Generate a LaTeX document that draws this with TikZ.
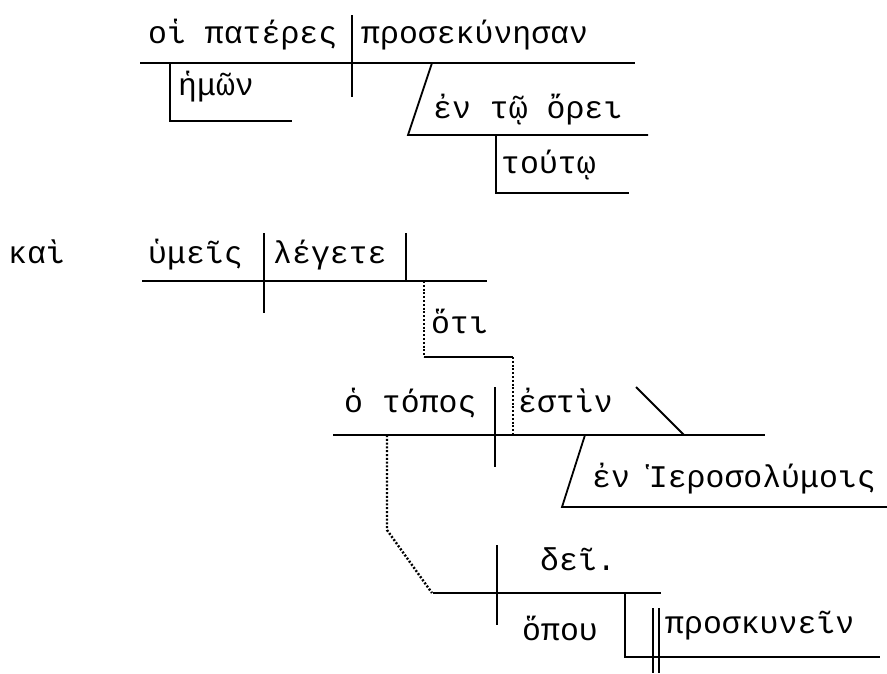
\documentclass[tikz,border=0pt]{standalone}
\usepackage{fontspec}
\setmainfont{Liberation Mono}
\newfontfamily\grk{Liberation Mono}
\begin{document}
\begin{tikzpicture}[x=1pt,y=-1pt,
  ln/.style={line width=1.8pt},
  dl/.style={line width=2.4pt,dash pattern=on 2pt off 1.8pt},
  wd/.style={inner sep=0pt,anchor=base west,font=\grk\fontsize{31.5}{36}\selectfont}]
\useasboundingbox (0,0) rectangle (887,673);
% top clause
\draw[ln] (140,63) -- (635,63);
\draw[ln] (352,15) -- (352,97);
\draw[ln] (170,63) -- (170,121) -- (292,121);
\draw[ln] (432,63) -- (408,135) -- (648,135);
\draw[ln] (496,135) -- (496,193) -- (629,193);
\node[wd] (s1) at (148,43) {οἱ πατέρες};
\node[wd] (v1) at (361,43) {προσεκύνησαν};
\node[wd] (m1) at (178,95) {ἡμῶν};
\node[wd] (p1) at (433,118) {ἐν τῷ ὄρει};
\node[wd] (m2) at (501,173) {τούτῳ};
% second clause
\node[wd] (c1) at (8,263) {καὶ};
\node[wd] (s2) at (148,263) {ὑμεῖς};
\node[wd] (v2) at (273,263) {λέγετε};
\draw[ln] (142,281) -- (487,281);
\draw[ln] (264,233) -- (264,313);
\draw[ln] (406,233) -- (406,281);
\draw[dl] (424,281) -- (424,357);
\draw[ln] (424,357) -- (513,357);
\draw[dl] (513,357) -- (513,435);
\node[wd] (c2) at (431,333) {ὅτι};
% third clause
\node[wd] (s3) at (344,412) {ὁ τόπος};
\node[wd] (v3) at (518,412) {ἐστὶν};
\draw[ln] (333,435) -- (765,435);
\draw[ln] (495,387) -- (495,467);
\draw[ln] (636,387) -- (684,435);
\draw[ln] (585,435) -- (562,507) -- (887,507);
\node[wd] (p3) at (592,487) {ἐν Ἱεροσολύμοις};
\draw[dl] (387,435) -- (387,530) -- (432,593);
% fourth clause
\draw[ln] (433,593) -- (661,593);
\draw[ln] (497,545) -- (497,625);
\node[wd] (v4) at (540,570) {δεῖ.};
\node[wd] (a4) at (522,640) {ὅπου};
\draw[ln] (625,593) -- (625,657) -- (880,657);
\draw[ln] (652.7,608) -- (652.7,673);
\draw[ln] (658.7,608) -- (658.7,673);
\node[wd] (o4) at (665,633) {προσκυνεῖν};
\end{tikzpicture}
\end{document}
